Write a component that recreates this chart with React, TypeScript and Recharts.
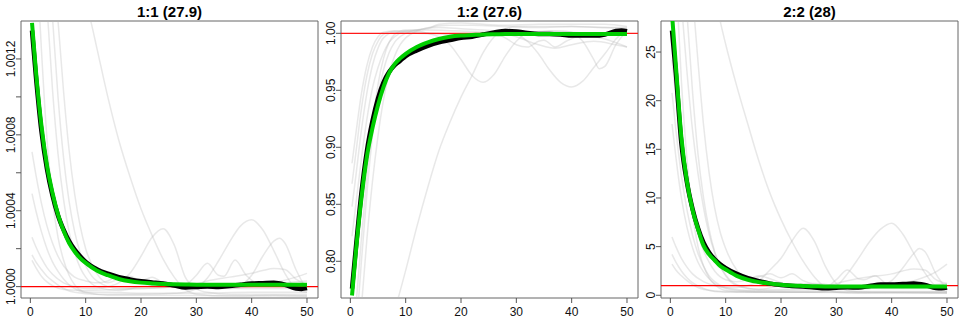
import React from "react";
import { LineChart, Line, XAxis, YAxis, ReferenceArea } from "recharts";

type Pt = [number, number];

// common x grid for the mean (black) and fitted (green) curves
const xs = [0.3, 1, 2, 3, 4, 5, 6, 7, 8, 9, 10, 12, 14, 16, 18, 20, 22, 24, 26, 28, 30, 32, 34, 36, 38, 40, 42, 44, 46, 48, 49, 50];
const xTicks = [0, 10, 20, 30, 40, 50];
const xDomain: [number, number] = [-1.69, 51.99];

// ---- panel 1:1 ----
const black11 = [1.00135, 1.00111, 1.00082, 1.00062, 1.00048, 1.000375, 1.0003, 1.00024, 1.000195, 1.00016, 1.00013, 1.000092, 1.000068, 1.00005, 1.000038, 1.000028, 1.000022, 1.000016, 1.000006, 0.999996, 0.999998, 1.000001, 0.999998, 1.000003, 1.00001, 1.000016, 1.000018, 1.00002, 1.00001, 0.99999, 0.999988, 0.999992];
const green11 = [1.00139, 1.00114, 1.00085, 1.00064, 1.000495, 1.00038, 1.000295, 1.00023, 1.000185, 1.00015, 1.000125, 1.000085, 1.00006, 1.00004, 1.000028, 1.000021, 1.000017, 1.000014, 1.000012, 1.000011, 1.00001, 1.00001, 1.00001, 1.00001, 1.00001, 1.00001, 1.00001, 1.00001, 1.00001, 1.00001, 1.00001, 1.00001];
const grey11a: Pt[] = [[9, 1.00163], [10, 1.0015], [11, 1.00139], [12, 1.00126], [14, 1.001], [16, 1.00077], [18, 1.00058], [20, 1.00041], [22, 1.00027], [24, 1.000145], [26, 1.00005], [28, 0.999985], [30, 0.99996], [36, 0.99995], [44, 0.999955], [50, 0.99995]];
const grey11b: Pt[] = [[0.3, 1.00026], [1, 1.00021], [2, 1.00015], [3, 1.0001], [4, 1.000065], [6, 1.00002], [8, 1.0], [10, 0.99999], [12, 0.99999], [14, 1.0], [16, 1.00002], [18, 1.00007], [20, 1.00016], [22, 1.00026], [24, 1.000305], [26, 1.00022], [28, 1.00005], [30, 0.99999], [32, 0.99997], [36, 0.99996], [50, 0.99996]];
const grey11c: Pt[] = [[0.3, 1.000167], [1, 1.00013], [2, 1.00009], [3, 1.000055], [4, 1.00003], [6, 0.99999], [8, 0.99997], [12, 0.99996], [20, 0.99996], [26, 0.999965], [28, 0.99997], [30, 0.99999], [32, 1.000045], [34, 1.000135], [36, 1.000235], [38, 1.00032], [40, 1.000352], [42, 1.0003], [44, 1.00019], [46, 1.00007], [48, 0.99999], [50, 0.99997]];
const grey11d: Pt[] = [[0.3, 1.000138], [1, 1.0001], [2, 1.000055], [3, 1.000025], [4, 1.000005], [6, 0.999985], [10, 0.99998], [20, 0.99999], [30, 1.0], [36, 1.0], [38, 1.00001], [40, 1.00006], [42, 1.00016], [44, 1.00024], [45, 1.000255], [46, 1.00023], [48, 1.00009], [50, 0.99998]];
const grey11e: Pt[] = [[3, 1.0018], [4, 1.00142], [5, 1.001], [6, 1.00068], [7, 1.00045], [8, 1.00029], [9, 1.00018], [10, 1.00011], [12, 1.00003], [16, 0.99999], [20, 0.99999], [24, 0.999995], [28, 1.00001], [30, 1.00006], [32, 1.000123], [34, 1.00006], [35, 1.000055], [37, 1.00014], [39, 1.00006], [42, 1.00001], [46, 1.00002], [50, 1.00003]];
const grey11f: Pt[] = [[4, 1.0018], [5, 1.0014], [6, 1.00103], [7, 1.00072], [8, 1.00049], [9, 1.00032], [10, 1.0002], [12, 1.00007], [14, 1.00002], [16, 1.00004], [18, 1.000055], [20, 1.00003], [22, 1.00005], [24, 1.00002], [28, 1.0], [32, 1.00003], [36, 1.00005], [40, 1.00007], [42, 1.000085], [44, 1.000095], [46, 1.00009], [48, 1.00004], [50, 1.00001]];
const grey11g: Pt[] = [[3, 1.00148], [4, 1.00104], [5, 1.0007], [6, 1.00046], [7, 1.00029], [8, 1.00018], [9, 1.0001], [10, 1.00005], [12, 1.0], [16, 0.99998], [20, 1.0], [26, 1.00001], [30, 1.0], [36, 0.99999], [40, 1.0], [44, 1.00002], [48, 1.00005], [50, 1.00007]];
const grey11h: Pt[] = [[0.3, 1.00071], [1, 1.00059], [2, 1.00044], [3, 1.00032], [4, 1.00023], [5, 1.00016], [6, 1.00011], [7, 1.000075], [8, 1.00005], [10, 1.00003], [12, 1.00002], [14, 1.00003], [16, 1.000055], [18, 1.00004], [20, 1.00002], [22, 1.00001], [30, 1.0], [40, 0.99999], [50, 0.99999]];
const grey11i: Pt[] = [[0.3, 1.00049], [1, 1.0004], [2, 1.00029], [3, 1.0002], [4, 1.00013], [5, 1.00008], [6, 1.00004], [7, 1.00001], [8, 0.99999], [10, 0.99997], [14, 0.99997], [20, 0.999965], [30, 0.999965], [40, 0.99997], [50, 0.99997]];
const grey11j: Pt[] = [[1, 1.0018], [2, 1.00125], [3, 1.00078], [4, 1.00046], [5, 1.00026], [6, 1.00014], [7, 1.00006], [8, 1.00001], [10, 0.99997], [14, 0.999955], [24, 0.999955], [50, 0.99995]];
const yTicks11 = [1.0, 1.0002, 1.0004, 1.0006, 1.0008, 1.001, 1.0012];

// ---- panel 1:2 ----
const black12 = [0.776, 0.812, 0.86, 0.897, 0.923, 0.943, 0.957, 0.966, 0.972, 0.976, 0.98, 0.985, 0.989, 0.992, 0.994, 0.996, 0.997, 0.999, 1.0008, 1.002, 1.0015, 1.0003, 0.9995, 0.9995, 0.999, 0.998, 0.998, 0.998, 0.999, 1.002, 1.0025, 1.0018];
const green12 = [0.77, 0.808, 0.855, 0.892, 0.917, 0.937, 0.953, 0.965, 0.973, 0.978, 0.982, 0.988, 0.992, 0.995, 0.997, 0.998, 0.9985, 0.999, 0.9992, 0.9993, 0.9994, 0.9994, 0.9994, 0.9994, 0.9994, 0.9994, 0.9994, 0.9994, 0.9994, 0.9994, 0.9994, 0.9994];
const grey12s: Pt[] = [[7.5, 0.75], [8.6, 0.767], [10, 0.792], [12, 0.83], [14, 0.865], [16, 0.897], [18, 0.922], [20, 0.944], [22, 0.963], [24, 0.983], [26, 0.997], [28, 1.004], [30, 1.006], [34, 1.006], [40, 1.006], [46, 1.005], [50, 1.005]];
const grey12p: Pt[] = [[0.3, 0.886], [1, 0.912], [2, 0.947], [3, 0.972], [4, 0.988], [5, 0.997], [6, 1.001], [8, 1.002], [10, 1.002], [12, 1.002], [14, 1.0], [16, 0.997], [18, 0.99], [20, 0.977], [22, 0.963], [24, 0.957], [26, 0.964], [28, 0.98], [30, 0.993], [32, 1.0], [36, 1.002], [40, 1.001], [44, 1.0], [50, 1.0]];
const grey12q: Pt[] = [[0.3, 0.868], [1, 0.895], [2, 0.934], [3, 0.963], [4, 0.982], [5, 0.993], [6, 0.999], [8, 1.002], [12, 1.001], [20, 0.999], [26, 1.0], [30, 0.999], [32, 0.993], [34, 0.982], [36, 0.968], [38, 0.957], [40, 0.953], [42, 0.958], [44, 0.97], [46, 0.982], [48, 0.995], [50, 1.003]];
const grey12r: Pt[] = [[0.3, 0.848], [1, 0.875], [2, 0.915], [3, 0.948], [4, 0.972], [5, 0.987], [6, 0.996], [8, 1.001], [12, 1.0], [20, 0.999], [30, 1.0], [38, 1.002], [40, 1.001], [42, 0.993], [44, 0.977], [45, 0.969], [46, 0.971], [48, 0.99], [50, 1.002]];
const grey12t: Pt[] = [[1, 0.76], [2, 0.82], [3, 0.875], [4, 0.92], [5, 0.955], [6, 0.978], [7, 0.992], [8, 0.999], [10, 1.003], [14, 1.003], [20, 1.002], [26, 1.0], [28, 0.996], [30, 0.99], [32, 0.988], [34, 0.993], [35, 0.994], [37, 0.988], [39, 0.993], [42, 0.998], [46, 0.995], [50, 0.988]];
const grey12u: Pt[] = [[2, 0.76], [3, 0.82], [4, 0.87], [5, 0.91], [6, 0.942], [7, 0.965], [8, 0.98], [9, 0.99], [10, 0.996], [12, 1.002], [14, 1.005], [18, 1.007], [22, 1.007], [28, 1.006], [34, 1.005], [40, 1.006], [46, 1.005], [50, 1.004]];
const grey12v: Pt[] = [[0.3, 0.822], [1, 0.85], [2, 0.89], [3, 0.925], [4, 0.952], [5, 0.97], [6, 0.983], [7, 0.992], [8, 0.997], [10, 1.002], [14, 1.004], [16, 1.008], [20, 1.009], [24, 1.008], [28, 1.007], [34, 1.008], [40, 1.008], [46, 1.008], [50, 1.006]];
const grey12w: Pt[] = [[1.5, 0.767], [2, 0.8], [3, 0.86], [4, 0.91], [5, 0.945], [6, 0.968], [7, 0.983], [8, 0.992], [10, 1.0], [12, 1.003], [16, 1.005], [20, 1.004], [26, 1.002], [30, 0.997], [34, 0.99], [37, 0.987], [40, 0.99], [44, 0.993], [48, 0.99], [50, 0.988]];
const yTicks12 = [0.8, 0.85, 0.9, 0.95, 1.0];

// ---- panel 2:2 ----
const black22 = [27.2, 22.8, 15.6, 11.6, 8.9, 6.9, 5.4, 4.4, 3.7, 3.2, 2.8, 2.2, 1.75, 1.45, 1.2, 1.05, 0.95, 0.9, 0.8, 0.72, 0.78, 0.82, 0.8, 0.95, 1.1, 1.1, 1.15, 1.2, 1.05, 0.75, 0.72, 0.8];
const green22 = [28.9, 23.6, 16.2, 11.7, 8.8, 6.8, 5.1, 4.2, 3.6, 3.0, 2.65, 2.0, 1.6, 1.35, 1.2, 1.08, 1.0, 0.96, 0.93, 0.91, 0.9, 0.9, 0.9, 0.9, 0.9, 0.9, 0.9, 0.9, 0.9, 0.9, 0.9, 0.9];
const grey22a: Pt[] = [[8, 31], [9, 28.2], [10, 25.8], [12, 21.5], [14, 17.6], [16, 13.8], [18, 10.5], [20, 7.8], [22, 5.5], [24, 3.5], [26, 1.9], [28, 0.8], [30, 0.3], [34, 0.2], [40, 0.25], [50, 0.2]];
const grey22b: Pt[] = [[0.3, 6.0], [1, 5.0], [2, 3.8], [3, 2.9], [4, 2.2], [6, 1.4], [8, 1.0], [10, 0.8], [12, 0.8], [14, 1.0], [16, 1.5], [18, 2.6], [20, 3.8], [22, 5.6], [24, 6.9], [26, 5.6], [28, 3.0], [30, 1.2], [32, 0.5], [36, 0.3], [50, 0.3]];
const grey22c: Pt[] = [[0.3, 4.2], [1, 3.4], [2, 2.5], [3, 1.8], [4, 1.3], [6, 0.7], [8, 0.4], [12, 0.3], [20, 0.3], [26, 0.3], [28, 0.4], [30, 0.9], [32, 2.2], [34, 3.8], [36, 5.5], [38, 6.8], [40, 7.4], [42, 6.3], [44, 4.3], [46, 2.3], [48, 0.9], [50, 0.4]];
const grey22d: Pt[] = [[0.3, 3.2], [1, 2.6], [2, 2.0], [3, 1.5], [4, 1.1], [6, 0.6], [10, 0.4], [20, 0.5], [30, 0.6], [36, 0.7], [38, 0.9], [40, 1.5], [42, 2.8], [44, 4.3], [45, 4.8], [46, 4.5], [48, 2.2], [50, 0.6]];
const grey22e: Pt[] = [[2, 30], [3, 23], [4, 17], [5, 12.5], [6, 9.0], [7, 6.3], [8, 4.4], [9, 3.0], [10, 2.1], [12, 1.1], [16, 0.6], [20, 0.6], [24, 0.7], [28, 0.8], [30, 1.6], [32, 2.6], [34, 1.7], [35, 1.6], [37, 2.0], [39, 1.2], [42, 0.8], [46, 1.0], [50, 1.2]];
const grey22f: Pt[] = [[4, 31], [5, 24], [6, 17.5], [7, 12.6], [8, 9.0], [9, 6.5], [10, 4.8], [12, 2.6], [14, 1.6], [16, 1.9], [18, 2.2], [20, 1.8], [22, 2.2], [24, 1.5], [28, 1.0], [32, 1.5], [36, 1.9], [40, 2.2], [42, 2.5], [44, 2.7], [46, 2.6], [48, 1.6], [50, 1.2]];
const grey22g: Pt[] = [[3, 29], [4, 21], [5, 14.5], [6, 10], [7, 6.8], [8, 4.5], [9, 3.0], [10, 2.0], [12, 1.0], [16, 0.6], [20, 1.0], [26, 1.2], [30, 1.0], [36, 0.8], [40, 1.0], [44, 1.5], [48, 2.4], [50, 3.2]];
const grey22h: Pt[] = [[0.3, 24.2], [1, 20.5], [2, 15.5], [3, 11.6], [4, 8.6], [5, 6.3], [6, 4.6], [7, 3.4], [8, 2.5], [10, 1.6], [12, 1.4], [14, 1.6], [16, 2.0], [18, 1.7], [20, 1.3], [22, 1.1], [30, 0.9], [40, 0.7], [50, 0.7]];
const grey22i: Pt[] = [[0.3, 20.8], [1, 17.0], [2, 12.3], [3, 8.8], [4, 6.2], [5, 4.3], [6, 3.0], [7, 2.0], [8, 1.4], [10, 0.8], [14, 0.5], [20, 0.4], [30, 0.4], [40, 0.4], [50, 0.4]];
const grey22k: Pt[] = [[0.3, 17.6], [1, 14.2], [2, 10.0], [3, 7.0], [4, 4.9], [5, 3.4], [6, 2.4], [7, 1.7], [8, 1.2], [10, 0.7], [14, 0.4], [20, 0.3], [50, 0.3]];
const grey22j: Pt[] = [[1, 33], [2, 22], [3, 14], [4, 8.5], [5, 5.0], [6, 3.0], [7, 1.8], [8, 1.1], [10, 0.5], [14, 0.3], [24, 0.3], [50, 0.2]];
const yTicks22 = [0, 5, 10, 15, 20, 25];

const FONT = "'Liberation Sans', Arial, Helvetica, sans-serif";

const toPts = (a: Pt[]) => a.map(([x, y]) => ({ x, y }));
const onGrid = (ys: number[]) => xs.map((x, i) => ({ x, y: ys[i] }));

type PanelProps = {
  id: string;
  title: string;
  yDomain: [number, number];
  yTicks: number[];
  fmt: (v: number) => string;
  labelEvery: number;
  black: number[];
  green: number[];
  greys: Pt[][];
  refColor: string;
};

const Panel = ({ id, title, yDomain, yTicks, fmt, labelEvery, black, green, greys, refColor }: PanelProps) => {
  const yTick = (p: any) => {
    if (p.index % labelEvery !== 0) return <g />;
    return (
      <text
        transform={`translate(11, ${p.y}) rotate(-90)`}
        textAnchor="middle"
        dominantBaseline="central"
        fontSize={12}
        fontFamily={FONT}
        fill="#111"
      >
        {fmt(p.payload.value)}
      </text>
    );
  };
  const xTick = (p: any) => (
    <text x={p.x} y={312} textAnchor="middle" dominantBaseline="central" fontSize={12} fontFamily={FONT} fill="#111">
      {p.payload.value}
    </text>
  );
  return (
    <div style={{ position: "relative", width: 320, height: 320 }}>
      <div
        style={{
          position: "absolute",
          left: 21,
          width: 297,
          top: 4,
          height: 16,
          lineHeight: "16px",
          textAlign: "center",
          fontFamily: FONT,
          fontWeight: "bold",
          fontSize: 15,
          color: "#000",
        }}
      >
        {title}
      </div>
      <LineChart id={id} width={320} height={320} margin={{ top: 21, right: 2, bottom: 0, left: 0 }}>
        <XAxis
          type="number"
          dataKey="x"
          domain={xDomain}
          ticks={xTicks}
          allowDataOverflow
          height={22}
          axisLine={false}
          tickSize={5}
          tickLine={{ stroke: "#555" }}
          tick={xTick}
        />
        <YAxis
          type="number"
          domain={yDomain}
          ticks={yTicks}
          allowDataOverflow
          width={21}
          axisLine={false}
          tickSize={5}
          tickLine={{ stroke: "#555" }}
          tick={yTick}
        />
        {greys.map((g, i) => (
          <Line
            key={`${id}-grey-${i}`}
            id={`${id}-grey-${i}`}
            name={`grey ${i}`}
            data={toPts(g)}
            dataKey="y"
            type="monotone"
            stroke="#b8b8b8"
            strokeOpacity={0.32}
            strokeWidth={1.5}
            dot={false}
            activeDot={false}
            isAnimationActive={false}
          />
        ))}
        <Line
          key={`${id}-ref`}
          id={`${id}-ref`}
          name="reference"
          data={[{ x: xDomain[0], y: 1 }, { x: xDomain[1], y: 1 }]}
          dataKey="y"
          type="linear"
          stroke={refColor}
          strokeWidth={1.2}
          dot={false}
          activeDot={false}
          isAnimationActive={false}
        />
        <Line
          key={`${id}-black`}
          id={`${id}-black`}
          name="mean"
          data={onGrid(black)}
          dataKey="y"
          type="monotone"
          stroke="#000"
          strokeWidth={4.5}
          dot={false}
          activeDot={false}
          isAnimationActive={false}
        />
        <Line
          key={`${id}-green`}
          id={`${id}-green`}
          name="fit"
          data={onGrid(green)}
          dataKey="y"
          type="monotone"
          stroke="#00CD00"
          strokeWidth={4}
          dot={false}
          activeDot={false}
          isAnimationActive={false}
        />
        <ReferenceArea
          x1={xDomain[0]}
          x2={xDomain[1]}
          y1={yDomain[0]}
          y2={yDomain[1]}
          fill="none"
          stroke="#666"
          strokeWidth={1}
          ifOverflow="visible"
        />
      </LineChart>
    </div>
  );
};

export default function App() {
  return (
    <div style={{ position: "absolute", left: 0, top: 0, width: 960, height: 320, background: "#fff", display: "flex" }}>
      <Panel
        id="p11"
        title="1:1 (27.9)"
        yDomain={[0.99994, 1.0014]}
        yTicks={yTicks11}
        fmt={(v) => v.toFixed(4)}
        labelEvery={2}
        black={black11}
        green={green11}
        greys={[grey11a, grey11b, grey11c, grey11d, grey11e, grey11f, grey11g, grey11h, grey11i, grey11j]}
        refColor="#ff0000"
      />
      <Panel
        id="p12"
        title="1:2 (27.6)"
        yDomain={[0.7678, 1.0108]}
        yTicks={yTicks12}
        fmt={(v) => v.toFixed(2)}
        labelEvery={1}
        black={black12}
        green={green12}
        greys={[grey12s, grey12p, grey12q, grey12r, grey12t, grey12u, grey12v, grey12w]}
        refColor="#ff1a1a"
      />
      <Panel
        id="p22"
        title="2:2 (28)"
        yDomain={[-0.28, 28.19]}
        yTicks={yTicks22}
        fmt={(v) => String(v)}
        labelEvery={1}
        black={black22}
        green={green22}
        greys={[grey22a, grey22b, grey22c, grey22d, grey22e, grey22f, grey22g, grey22h, grey22i, grey22k, grey22j]}
        refColor="#ff0000"
      />
    </div>
  );
}
